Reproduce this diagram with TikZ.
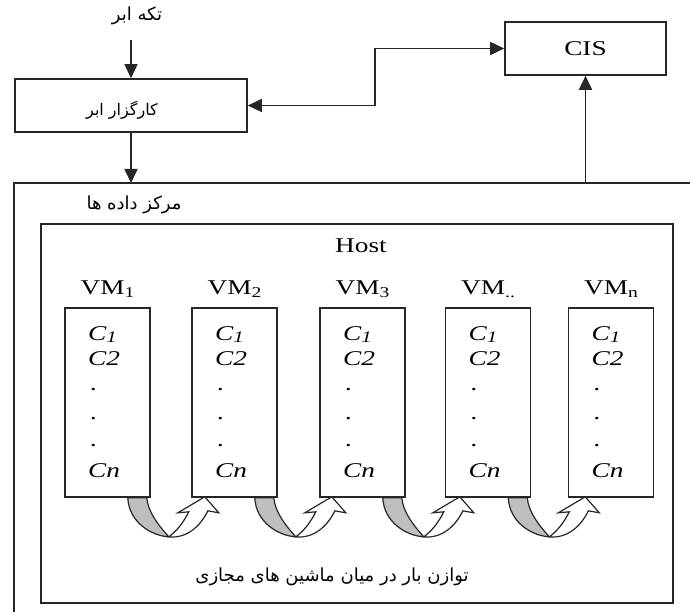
\documentclass[tikz,border=0pt]{standalone}
\usepackage{fontspec}
\setmainfont[FakeStretch=1.3]{Liberation Serif}
\newfontfamily\fa[Script=Arabic]{DejaVu Sans}
\TeXXeTstate=1
\usetikzlibrary{arrows.meta}
\newcommand\vsub[1]{\raisebox{-3pt}{\fontsize{15}{15}\selectfont #1}}
\newcommand\cidx[1]{\raisebox{-2pt}{\fontsize{16}{16}\selectfont\itshape #1}}
\begin{document}
\begin{tikzpicture}[x=1pt,y=-1pt,
  box/.style={draw=black!85, line width=1.6pt, rectangle, inner sep=0pt, fill=white},
  arr/.style={-{Triangle[length=14pt,width=13pt]}, line width=1.6pt, draw=black!85},
  arr2/.style={{Triangle[length=14pt,width=13pt]}-{Triangle[length=14pt,width=13pt]}, line width=1.6pt, draw=black!85},
  lat/.style={font=\fontsize{21}{24}\selectfont, inner sep=0pt},
  cell/.style={font=\fontsize{21}{24}\selectfont\itshape, inner sep=0pt, anchor=west},
  per/.style={font=\fa\fontsize{18}{20}\selectfont, inner sep=0pt},
  uarrow/.pic={
    \filldraw[fill=black!25, draw=black!85, line width=1.2pt]
      (-23,0) .. controls (-22,24) and (0,38) .. (18,39)
      .. controls (8,28) and (-3,14) .. (-4,0) -- cycle;
    \filldraw[fill=white, draw=black!85, line width=1.2pt]
      (18,39) .. controls (36,41) and (50,28) .. (57,13) -- (68,15) -- (54,-1)
      -- (27,15) -- (38,14) .. controls (32,26) and (25,34) .. (18,39) -- cycle;
  }
]
\useasboundingbox (0,0) rectangle (690,612);
\fill[white] (0,0) rectangle (690,612);

% top part
\node[per] (cloud) at (137,16) {\beginR تکه ابر\endR};
\coordinate (ctop) at (131,40);
\node[box, minimum width=232pt, minimum height=53pt] (broker) at (131,105.5) {};
\node[per, font=\fa\fontsize{16}{18}\selectfont] (brokertxt) at (122,110) {\beginR کارگزار ابر\endR};
\node[box, minimum width=161pt, minimum height=53pt, lat] (cis) at (585.5,48.5) {CIS};

\coordinate (jx) at (375,0);
\draw[arr] (ctop) -- (broker.north);
\draw[arr2] (broker.east) -- (broker.east -| jx) |- (cis.west);

% data centre
\draw[draw=black!85, line width=1.6pt] (690,183) -- (14,183) -- (14,612);
\coordinate (dctop) at (131,183);
\coordinate (dcR) at (585.5,183);
\draw[arr] (broker.south) -- (dctop);
\draw[arr] (dcR) -- (cis.south);
\node[per] (dclbl) at (134,205) {\beginR مرکز داده ها\endR};

% host
\node[box, minimum width=632pt, minimum height=379pt] (host) at (357,413.5) {};
\node[lat] (hostlbl) at (361,246) {Host};

\foreach \i/\x/\lab in {1/107.5/1, 2/234.5/2, 3/362.5/3, 4/488/{..}, 5/611/n}{
  \node[box, minimum width=85pt, minimum height=189pt] (vm\i) at (\x,402.5) {};
  \node[lat] (vml\i) at (\x,289) {VM\vsub{\lab}};
  \node[cell] (ca\i) at (\x-19.5,335) {C\cidx{1}};
  \node[cell] (cb\i) at (\x-19.5,359) {C2};
  \node[cell] (d1\i) at (\x-17,390) {.};
  \node[cell] (d2\i) at (\x-17,419) {.};
  \node[cell] (d3\i) at (\x-17,446) {.};
  \node[cell] (cn\i) at (\x-19.5,471) {Cn};
}
\foreach \i in {1,...,4}{
  \pic at (vm\i.south east) {uarrow};
}

\node[per] (lb) at (332,577) {\beginR توازن بار در میان ماشین های مجازی\endR};
\end{tikzpicture}
\end{document}
